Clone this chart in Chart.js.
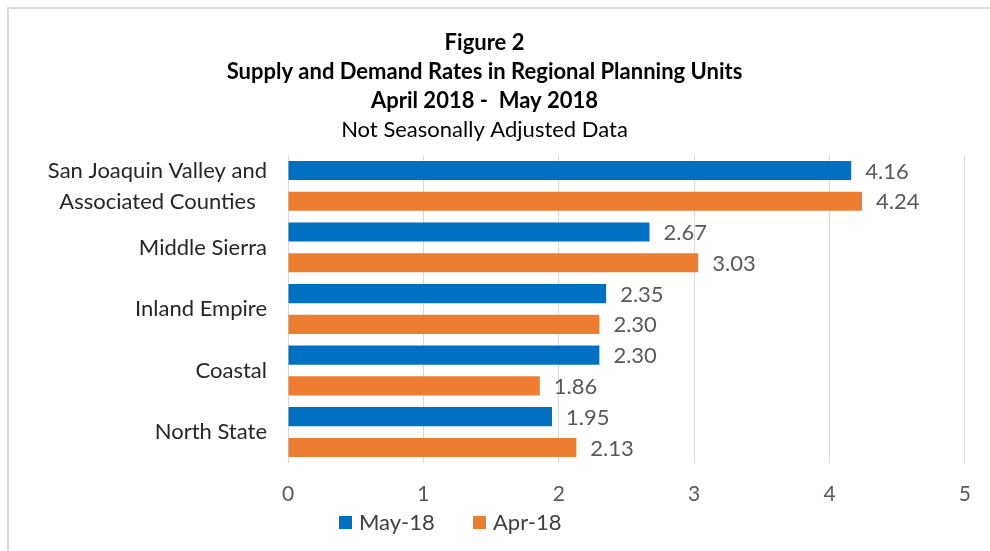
<!DOCTYPE html>
<html>
<head>
<meta charset="utf-8">
<script src="https://cdn.jsdelivr.net/npm/chart.js@4.4.1/dist/chart.umd.min.js"></script>
<style>
  html, body { margin: 0; padding: 0; background: #fff; overflow: hidden; }
  #frame { position: absolute; left: 7px; top: 7px; width: 1100px; height: 700px;
           border-left: 2px solid #d9d9d9; border-top: 2px solid #d9d9d9; }
  #wrap { position: absolute; left: 0; top: 0; width: 990px; height: 551px; }
</style>
</head>
<body>
<div id="frame"></div>
<div id="wrap"><canvas id="chart" width="990" height="551"></canvas></div>
<script>
// Regional planning units, top to bottom
const regions = [
  ["San Joaquin Valley and", "Associated Counties  "],
  "Middle Sierra",
  "Inland Empire",
  "Coastal",
  "North State"
];
// Supply and demand rates
const may18 = [4.16, 2.67, 2.35, 2.30, 1.95];
const apr18 = [4.24, 3.03, 2.30, 1.86, 2.13];
const seriesNames = ["May-18", "Apr-18"];
const seriesColors = ["#0070C0", "#ED7D31"];
const titleLines = ["Figure 2", "Supply and Demand Rates in Regional Planning Units", "April 2018 -  May 2018"];
const subtitleText = "Not Seasonally Adjusted Data";

const FONT = "Lato, 'Open Sans', sans-serif";

// Value labels just past the end of each bar
const valueLabels = {
  id: 'valueLabels',
  afterDatasetsDraw(chart) {
    const ctx = chart.ctx;
    ctx.save();
    ctx.font = "22px " + FONT;
    ctx.fillStyle = "#595959";
    ctx.textAlign = "left";
    ctx.textBaseline = "middle";
    chart.data.datasets.forEach((ds, i) => {
      chart.getDatasetMeta(i).data.forEach((bar, j) => {
        ctx.fillText(ds.data[j].toFixed(2), bar.x + 14, bar.y + 1);
      });
    });
    ctx.restore();
  }
};

// Legend drawn below the axis, left of centre
const bottomLegend = {
  id: 'bottomLegend',
  afterDraw(chart) {
    const ctx = chart.ctx;
    const starts = [339, 473];
    const y = 523;
    ctx.save();
    ctx.font = "22px " + FONT;
    ctx.textBaseline = "middle";
    ctx.textAlign = "left";
    chart.data.datasets.forEach((ds, i) => {
      const x = starts[i];
      ctx.fillStyle = ds.backgroundColor;
      ctx.fillRect(x, y - 7, 13, 13);
      ctx.fillStyle = "#404040";
      ctx.fillText(ds.label, x + 20, y);
    });
    ctx.restore();
  }
};

new Chart(document.getElementById('chart'), {
  type: 'bar',
  data: {
    labels: regions,
    datasets: [
      { label: seriesNames[0], data: may18, backgroundColor: seriesColors[0],
        categoryPercentage: 1.0, barPercentage: 0.62 },
      { label: seriesNames[1], data: apr18, backgroundColor: seriesColors[1],
        categoryPercentage: 1.0, barPercentage: 0.62 }
    ]
  },
  options: {
    indexAxis: 'y',
    responsive: false,
    animation: false,
    devicePixelRatio: 1,
    layout: { padding: { top: 28, right: 21, bottom: 25, left: 0 } },
    plugins: {
      legend: { display: false },
      tooltip: { enabled: false },
      title: {
        display: true,
        text: titleLines,
        color: "#000",
        font: { family: FONT, size: 22, weight: 'bold', lineHeight: 1.32 },
        padding: { top: 0, bottom: 0 }
      },
      subtitle: {
        display: true,
        text: subtitleText,
        color: "#000",
        font: { family: FONT, size: 22, weight: 'normal', lineHeight: 1.32 },
        padding: { top: 0, bottom: 11 }
      }
    },
    scales: {
      x: {
        min: 0, max: 5,
        ticks: { stepSize: 1, color: "#595959", padding: 19,
                 font: { family: FONT, size: 21 } },
        grid: { color: "#d9d9d9", lineWidth: 1, drawTicks: false },
        border: { display: false }
      },
      y: {
        afterFit(scale) { scale.width = 288; },
        ticks: { color: "#262626", padding: 21, autoSkip: false,
                 font: { family: FONT, size: 22, lineHeight: 1.41 } },
        grid: { display: false, drawTicks: false },
        border: { display: true, color: "#d9d9d9", width: 1 }
      }
    }
  },
  plugins: [valueLabels, bottomLegend]
});
</script>
</body>
</html>
